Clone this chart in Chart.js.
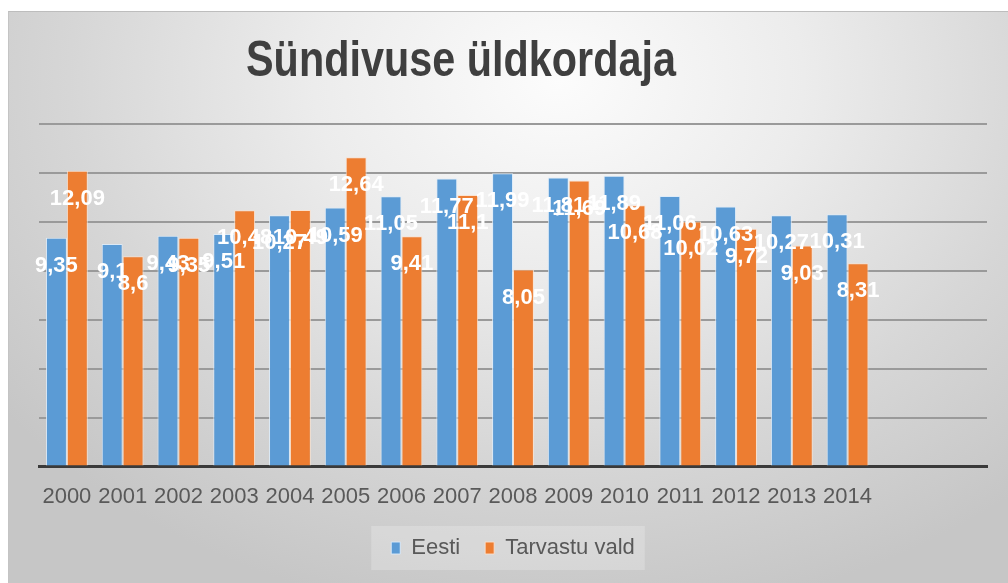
<!DOCTYPE html>
<html>
<head>
<meta charset="utf-8">
<script src="https://cdn.jsdelivr.net/npm/chart.js@4.4.0/dist/chart.umd.min.js"></script>
<style>
	html, body { margin: 0; padding: 0; background: #ffffff; width: 1008px; height: 583px; overflow: hidden; }
	#frame {
		position: absolute; left: 8px; top: 11px; width: 1000px; height: 572px;
		border-top: 1px solid #bdbdbd; border-left: 1px solid #c4c4c4;
		background: radial-gradient(ellipse 70% 95% at 55% 12%, #fcfcfc 0%, #ececec 35%, #d6d6d6 70%, #c6c6c6 100%);
	}
	#chart { display: block; }
</style>
</head>
<body>
<div id="frame"><canvas id="chart" width="999" height="571"></canvas></div>
<script>

var title = "Sündivuse üldkordaja";
var years = ["2000","2001","2002","2003","2004","2005","2006","2007","2008","2009","2010","2011","2012","2013","2014"];
var eesti = [9.35, 9.1, 9.43, 9.51, 10.27, 10.59, 11.05, 11.77, 11.99, 11.81, 11.89, 11.06, 10.63, 10.27, 10.31];
var tarvastu = [12.09, 8.6, 9.35, 10.48, 10.49, 12.64, 9.41, 11.1, 8.05, 11.69, 10.68, 10.02, 9.72, 9.03, 8.31];
var seriesNames = ["Eesti", "Tarvastu vald"];
var yTicks = [0, 2, 4, 6, 8, 10, 12, 14];
// the excel range had two blank rows after 2014
var blankSlots = 2;

var ChartController = function(){

	var titlePlugin = {
		id: "excelTitle",
		afterDraw: function(chart){
			var ctx = chart.ctx;
			ctx.save();
			ctx.font = "bold 50px 'Liberation Sans', Arial, sans-serif";
			ctx.fillStyle = "#3f3f3f";
			ctx.textBaseline = "alphabetic";
			var w = ctx.measureText(title).width;
			var sx = 430 / w;
			ctx.translate(237, 64);
			ctx.scale(sx, 1);
			ctx.fillText(title, 0, 0);
			ctx.restore();
		}
	};

	var labelPlugin = {
		id: "barLabels",
		afterDatasetsDraw: function(chart){
			var ctx = chart.ctx;
			ctx.save();
			ctx.font = "bold 22px 'Liberation Sans', Arial, sans-serif";
			ctx.fillStyle = "#ffffff";
			ctx.textAlign = "center";
			ctx.textBaseline = "middle";
			chart.data.datasets.forEach(function(ds, di){
				var meta = chart.getDatasetMeta(di);
				meta.data.forEach(function(el, i){
					var v = ds.data[i];
					if (v === null || v === undefined) return;
					ctx.fillText(formatValue(v), el.x, el.y + 28);
				});
			});
			ctx.restore();
		}
	};

	var legendBoxPlugin = {
		id: "legendBox",
		beforeDraw: function(chart){
			var lg = chart.legend;
			if (!lg || !lg.legendHitBoxes || !lg.legendHitBoxes.length) return;
			var boxes = lg.legendHitBoxes;
			var l = boxes[0].left, r = boxes[0].left + boxes[0].width;
			var t = boxes[0].top, b = boxes[0].top + boxes[0].height;
			boxes.forEach(function(h){
				l = Math.min(l, h.left); r = Math.max(r, h.left + h.width);
				t = Math.min(t, h.top); b = Math.max(b, h.top + h.height);
			});
			var ctx = chart.ctx;
			ctx.save();
			ctx.fillStyle = "rgba(255,255,255,0.22)";
			ctx.fillRect(l - 20, t - 11, r - l + 30, b - t + 22);
			ctx.restore();
		}
	};

	var init = function(){
		initialize();
	}

	return {
		init : init
	}

	function pad(arr, fill){
		var out = arr.slice();
		for (var i = 0; i < blankSlots; i++) out.push(fill);
		return out;
	}

	function formatValue(v){
		return String(v).replace(".", ",");
	}

	function initialize(){

		var ctx = document.getElementById("chart").getContext("2d");

		var data = {
			labels : pad(years, ""),
			datasets : [
			{
				label: seriesNames[0],
				backgroundColor: "#5b9bd5",
				borderColor: "rgba(220,235,250,0.9)",
				borderWidth: 1,
				data : pad(eesti, null)
			},
			{
				label: seriesNames[1],
				backgroundColor: "#ed7d31",
				borderColor: "rgba(252,225,205,0.9)",
				borderWidth: 1,
				data : pad(tarvastu, null)
			}]
		};

		new Chart(ctx, {
			type: "bar",
			data: data,
			plugins: [legendBoxPlugin, titlePlugin, labelPlugin],
			options: {
				responsive: false,
				animation: false,
				layout: { padding: { top: 112, left: 30, right: 21, bottom: 14 } },
				datasets: { bar: { categoryPercentage: 0.75, barPercentage: 1 } },
				plugins: {
					title: { display: false },
					tooltip: { enabled: false },
					legend: {
						display: true,
						position: "bottom",
						labels: {
							boxWidth: 9,
							boxHeight: 12,
							padding: 25,
							color: "#595959",
							font: { family: "'Liberation Sans', Arial, sans-serif", size: 22 }
						}
					}
				},
				scales: {
					x: {
						// legend padding also adds space above the legend, take it back here
						afterFit: function(scale){ scale.height -= 15; },
						grid: { display: false, drawTicks: false },
						border: { display: true, color: "#3a3a3a", width: 3 },
						ticks: {
							color: "#595959",
							padding: 17,
							maxRotation: 0,
							autoSkip: false,
							font: { family: "'Liberation Sans', Arial, sans-serif", size: 22 }
						}
					},
					y: {
						min: yTicks[0],
						max: yTicks[yTicks.length - 1],
						afterBuildTicks: function(axis){
							axis.ticks = yTicks.map(function(v){ return { value: v }; });
						},
						grid: { color: "#9a9a9a", lineWidth: 2, drawTicks: false },
						border: { display: false },
						ticks: { display: false }
					}
				}
			}
		});
	}
}();

ChartController.init();
</script>
</body>
</html>
